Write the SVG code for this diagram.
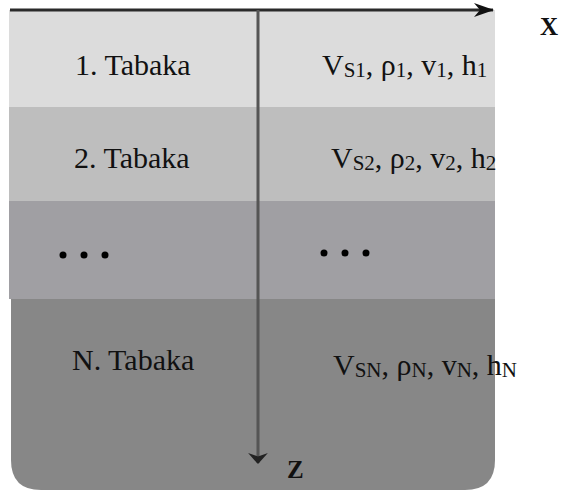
<svg xmlns="http://www.w3.org/2000/svg" width="561" height="495" viewBox="0 0 561 495">
<style>
.t{font-family:"Liberation Serif","Times New Roman",serif;font-size:30px;fill:#111}
.s{font-size:21px}
.ax{font-family:"Liberation Serif",serif;font-size:25px;font-weight:bold;fill:#111}
</style>
<defs>
<marker id="ah" viewBox="0 0 10 20" refX="9" refY="10" markerWidth="12" markerHeight="22" markerUnits="userSpaceOnUse" orient="auto"><path d="M0,1 L10,10 L0,19 L3,10 Z" fill="#222"/></marker>
<marker id="ah2" viewBox="0 0 20 14" refX="19" refY="7" markerWidth="22" markerHeight="14" markerUnits="userSpaceOnUse" orient="auto"><path d="M0,0 L20,7 L0,14 L6,7 Z" fill="#111"/></marker>
</defs>
<rect width="561" height="495" fill="#fff"/>
<g id="layer4"><path d="M11,299 H495 V460 Q495,490 465,490 H41 Q11,490 11,460 Z" fill="#878787"/></g>
<g id="layer1"><rect x="9" y="10" width="486" height="97" fill="#dcdcdc"/></g>
<g id="layer2"><rect x="9" y="107" width="486" height="94" fill="#bebebe"/></g>
<g id="layer3"><rect x="9" y="201" width="486" height="98" fill="#a09fa3"/></g>
<g id="connectors">
<line x1="10" y1="10" x2="493" y2="10" stroke="#2a2a2a" stroke-width="3" marker-end="url(#ah2)"/>
<line x1="258" y1="10" x2="258" y2="463" stroke="#555" stroke-width="3" marker-end="url(#ah)"/>
</g>
<g id="labels">
<text class="ax" x="540" y="35">X</text>
<text class="ax" x="287" y="478">Z</text>
<text class="t" x="75" y="75">1. Tabaka</text>
<text class="t" x="74" y="168">2. Tabaka</text>
<text class="t" x="72" y="370">N. Tabaka</text>
<text class="t" x="322" y="75">V<tspan class="s" dy="2">S1</tspan><tspan dy="-2">, ρ</tspan><tspan class="s" dy="2">1</tspan><tspan dy="-2">, v</tspan><tspan class="s" dy="2">1</tspan><tspan dy="-2">, h</tspan><tspan class="s" dy="2">1</tspan></text>
<text class="t" x="331" y="168">V<tspan class="s" dy="2">S2</tspan><tspan dy="-2">, ρ</tspan><tspan class="s" dy="2">2</tspan><tspan dy="-2">, v</tspan><tspan class="s" dy="2">2</tspan><tspan dy="-2">, h</tspan><tspan class="s" dy="2">2</tspan></text>
<text class="t" x="333" y="375">V<tspan class="s" dy="2">SN</tspan><tspan dy="-2">, ρ</tspan><tspan class="s" dy="2">N</tspan><tspan dy="-2">, v</tspan><tspan class="s" dy="2">N</tspan><tspan dy="-2">, h</tspan><tspan class="s" dy="2">N</tspan></text>
<g fill="#000"><circle cx="63" cy="255" r="3.5"/><circle cx="84" cy="255" r="3.5"/><circle cx="105" cy="255" r="3.5"/><circle cx="324" cy="253" r="3.5"/><circle cx="345" cy="253" r="3.5"/><circle cx="366" cy="253" r="3.5"/></g>
</g>
</svg>
